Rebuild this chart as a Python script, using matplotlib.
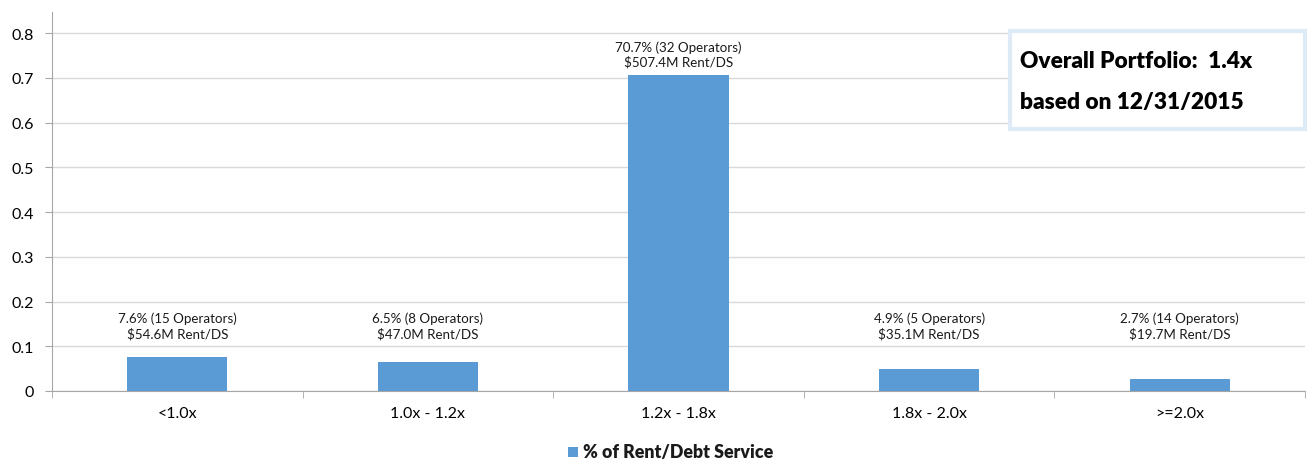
import matplotlib
matplotlib.use("Agg")
import matplotlib.pyplot as plt
from matplotlib.patches import Rectangle
import numpy as np

categories = ["<1.0x", "1.0x - 1.2x", "1.2x - 1.8x", "1.8x - 2.0x", ">=2.0x"]
values = [0.076, 0.065, 0.707, 0.049, 0.027]
labels = [
    "7.6% (15 Operators)\n$54.6M Rent/DS",
    "6.5% (8 Operators)\n$47.0M Rent/DS",
    "70.7% (32 Operators)\n$507.4M Rent/DS",
    "4.9% (5 Operators)\n$35.1M Rent/DS",
    "2.7% (14 Operators)\n$19.7M Rent/DS",
]
yticks = [0, 0.1, 0.2, 0.3, 0.4, 0.5, 0.6, 0.7, 0.8]
ytick_labels = ["0", "0.1", "0.2", "0.3", "0.4", "0.5", "0.6", "0.7", "0.8"]
series_name = "% of Rent/Debt Service"
box_lines = ["Overall Portfolio:  1.4x", "based on 12/31/2015"]

plt.rcParams['font.family'] = ['Lato', 'DejaVu Sans']

W, H = 1307, 460
fig = plt.figure(figsize=(W / 100, H / 100), dpi=100)
ax = fig.add_axes([52 / W, 1 - 392 / H, (1305 - 52) / W, (392 - 13) / H])

bar_color = "#5B9BD5"
x = np.arange(len(categories))
ax.bar(x, values, width=0.4, color=bar_color, zorder=3)

ax.set_xlim(-0.5, len(categories) - 0.5)
ax.set_ylim(0, 0.847)
ax.set_yticks(yticks)
ax.set_yticklabels(ytick_labels, fontsize=11.5)
ax.yaxis.grid(True, color="#D9D9D9", linewidth=1.0, zorder=0)
ax.set_axisbelow(True)

ax.set_xticks(x)
ax.set_xticklabels(categories, fontsize=11.5)
ax.tick_params(axis='x', length=0, pad=11)
ax.set_xticks(np.arange(len(categories) + 1) - 0.5, minor=True)
ax.tick_params(axis='x', which='minor', length=5, color="#A6A6A6", direction='out')
ax.tick_params(axis='y', length=5, color="#A6A6A6", pad=8)

for s in ['top', 'right']:
    ax.spines[s].set_visible(False)
ax.spines['left'].set_color("#A6A6A6")
ax.spines['bottom'].set_color("#A6A6A6")

for xi, v, lab in zip(x, values, labels):
    ax.text(xi, max(v, 0.10) + 0.016, lab, ha='center', va='bottom',
            fontsize=9.6, linespacing=1.2, color="#1a1a1a")

# annotation box
fig.patches.append(Rectangle((1010 / W, 1 - 130 / H), (1305 - 1010) / W, (130 - 32) / H,
                             transform=fig.transFigure, facecolor='white',
                             edgecolor="#DEEBF7", linewidth=3, zorder=5))
for i, line in enumerate(box_lines):
    fig.text(1020 / W, 1 - (61 + 41 * i) / H, line, ha='left', va='center', fontsize=16.3,
             fontweight='heavy', color="#000000", zorder=6)

# legend
fig.patches.append(Rectangle((568 / W, 1 - 458 / H), 10 / W, 10 / H,
                             transform=fig.transFigure, facecolor=bar_color,
                             edgecolor='none'))
fig.text(583 / W, 1 - 453 / H, series_name, ha='left', va='center', fontsize=12.8,
         fontweight='heavy', color="#1a1a1a")

fig.savefig("out.png", dpi=100)
